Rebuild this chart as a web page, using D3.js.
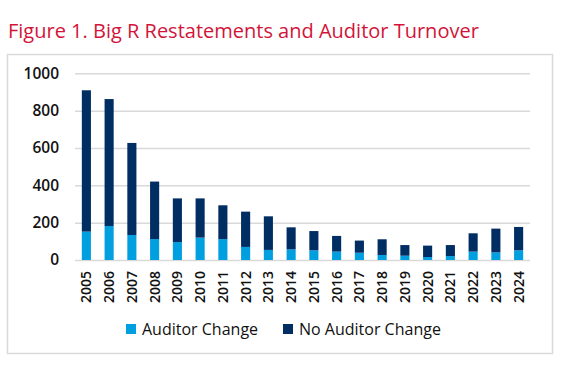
<!DOCTYPE html>
<html lang="en">
<head>
<meta charset="UTF-8">
<title>Big R Restatements and Auditor Turnover</title>
<script src="https://d3js.org/d3.v7.min.js"></script>
<style>
  body { margin: 0; background: #fff; }
  svg { display: block; font-family: "Open Sans", sans-serif; }
</style>
</head>
<body>
<script>
// values
var years = ["2005","2006","2007","2008","2009","2010","2011","2012","2013","2014",
             "2015","2016","2017","2018","2019","2020","2021","2022","2023","2024"];
var auditorChange   = [152, 182, 134, 112, 96, 120, 112, 70, 54, 57, 52, 45, 39, 27, 23, 16, 21, 45, 41, 52];
var noAuditorChange = [757, 680, 493, 308, 234, 210, 181, 189, 180, 118, 103, 84, 65, 84, 57, 61, 59, 98, 127, 125];
var yTicks = [0, 200, 400, 600, 800, 1000];
var seriesNames = ["Auditor Change", "No Auditor Change"];
var colours = ["#009FDF", "#002D62"];

var width = 577, height = 371;
var plot = {left: 75, right: 530, top: 73.3, bottom: 260};

var svg = d3.select("body").append("svg")
    .attr("width", width)
    .attr("height", height);

// title
svg.append("text")
    .attr("x", 8)
    .attr("y", 38)
    .attr("fill", "#D2143A")
    .style("font-size", "20px")
    .text("Figure 1. Big R Restatements and Auditor Turnover");

// frame
svg.append("rect")
    .attr("x", 7.5).attr("y", 54.5)
    .attr("width", 545).attr("height", 299)
    .attr("fill", "none")
    .attr("stroke", "#d9d9d9")
    .attr("stroke-width", 1.5);

var x = d3.scaleBand()
    .domain(years)
    .range([plot.left, plot.right])
    .paddingInner(0.6)
    .paddingOuter(0.3);

var y = d3.scaleLinear()
    .domain([0, 1000])
    .range([plot.bottom, plot.top]);

// gridlines + y labels
var yAxis = svg.append("g")
    .attr("transform", "translate(" + plot.left + ",0)")
    .call(d3.axisLeft(y).tickValues(yTicks).tickFormat(d3.format("d"))
      .tickSize(-(plot.right - plot.left)).tickPadding(16));
yAxis.select(".domain").remove();
yAxis.selectAll(".tick line").attr("stroke", "#d9d9d9").attr("stroke-width", 1.5);
yAxis.selectAll(".tick text")
    .attr("fill", "#111")
    .style("font-size", "15.5px")
    .style("font-weight", "600")
    .attr("font-family", "Open Sans, sans-serif");

// stacked bars
var rows = years.map(function(yr, i) {
  return {year: yr, a: auditorChange[i], b: noAuditorChange[i]};
});
var stack = d3.stack().keys(["a", "b"])(rows);

svg.append("g").selectAll("g")
  .data(stack)
  .enter().append("g")
    .attr("fill", function(d, i) { return colours[i]; })
  .selectAll("rect")
  .data(function(d) { return d; })
  .enter().append("rect")
    .attr("x", function(d) { return x(d.data.year); })
    .attr("width", x.bandwidth())
    .attr("y", function(d) { return y(d[1]); })
    .attr("height", function(d) { return y(d[0]) - y(d[1]); });

// x labels, rotated
var xAxis = svg.append("g")
    .attr("transform", "translate(0," + plot.bottom + ")")
    .call(d3.axisBottom(x).tickSize(0).tickPadding(0));
xAxis.select(".domain").remove();
xAxis.selectAll(".tick text")
    .attr("transform", "rotate(-90)")
    .attr("text-anchor", "end")
    .attr("x", -11)
    .attr("y", 0)
    .attr("dy", "0.35em")
    .attr("fill", "#111")
    .style("font-size", "14px")
    .style("font-weight", "600")
    .attr("font-family", "Open Sans, sans-serif");

// legend
var legendX = [126, 283];
var legend = svg.append("g").selectAll("g")
  .data(seriesNames)
  .enter().append("g")
    .attr("transform", function(d, i) { return "translate(" + legendX[i] + ",329)"; });
legend.append("rect")
    .attr("x", 0).attr("y", -5)
    .attr("width", 10).attr("height", 10)
    .attr("fill", function(d, i) { return colours[i]; });
legend.append("text")
    .attr("x", 16)
    .attr("dy", "0.35em")
    .attr("fill", "#111")
    .style("font-size", "16px")
    .text(function(d) { return d; });
</script>
</body>
</html>
